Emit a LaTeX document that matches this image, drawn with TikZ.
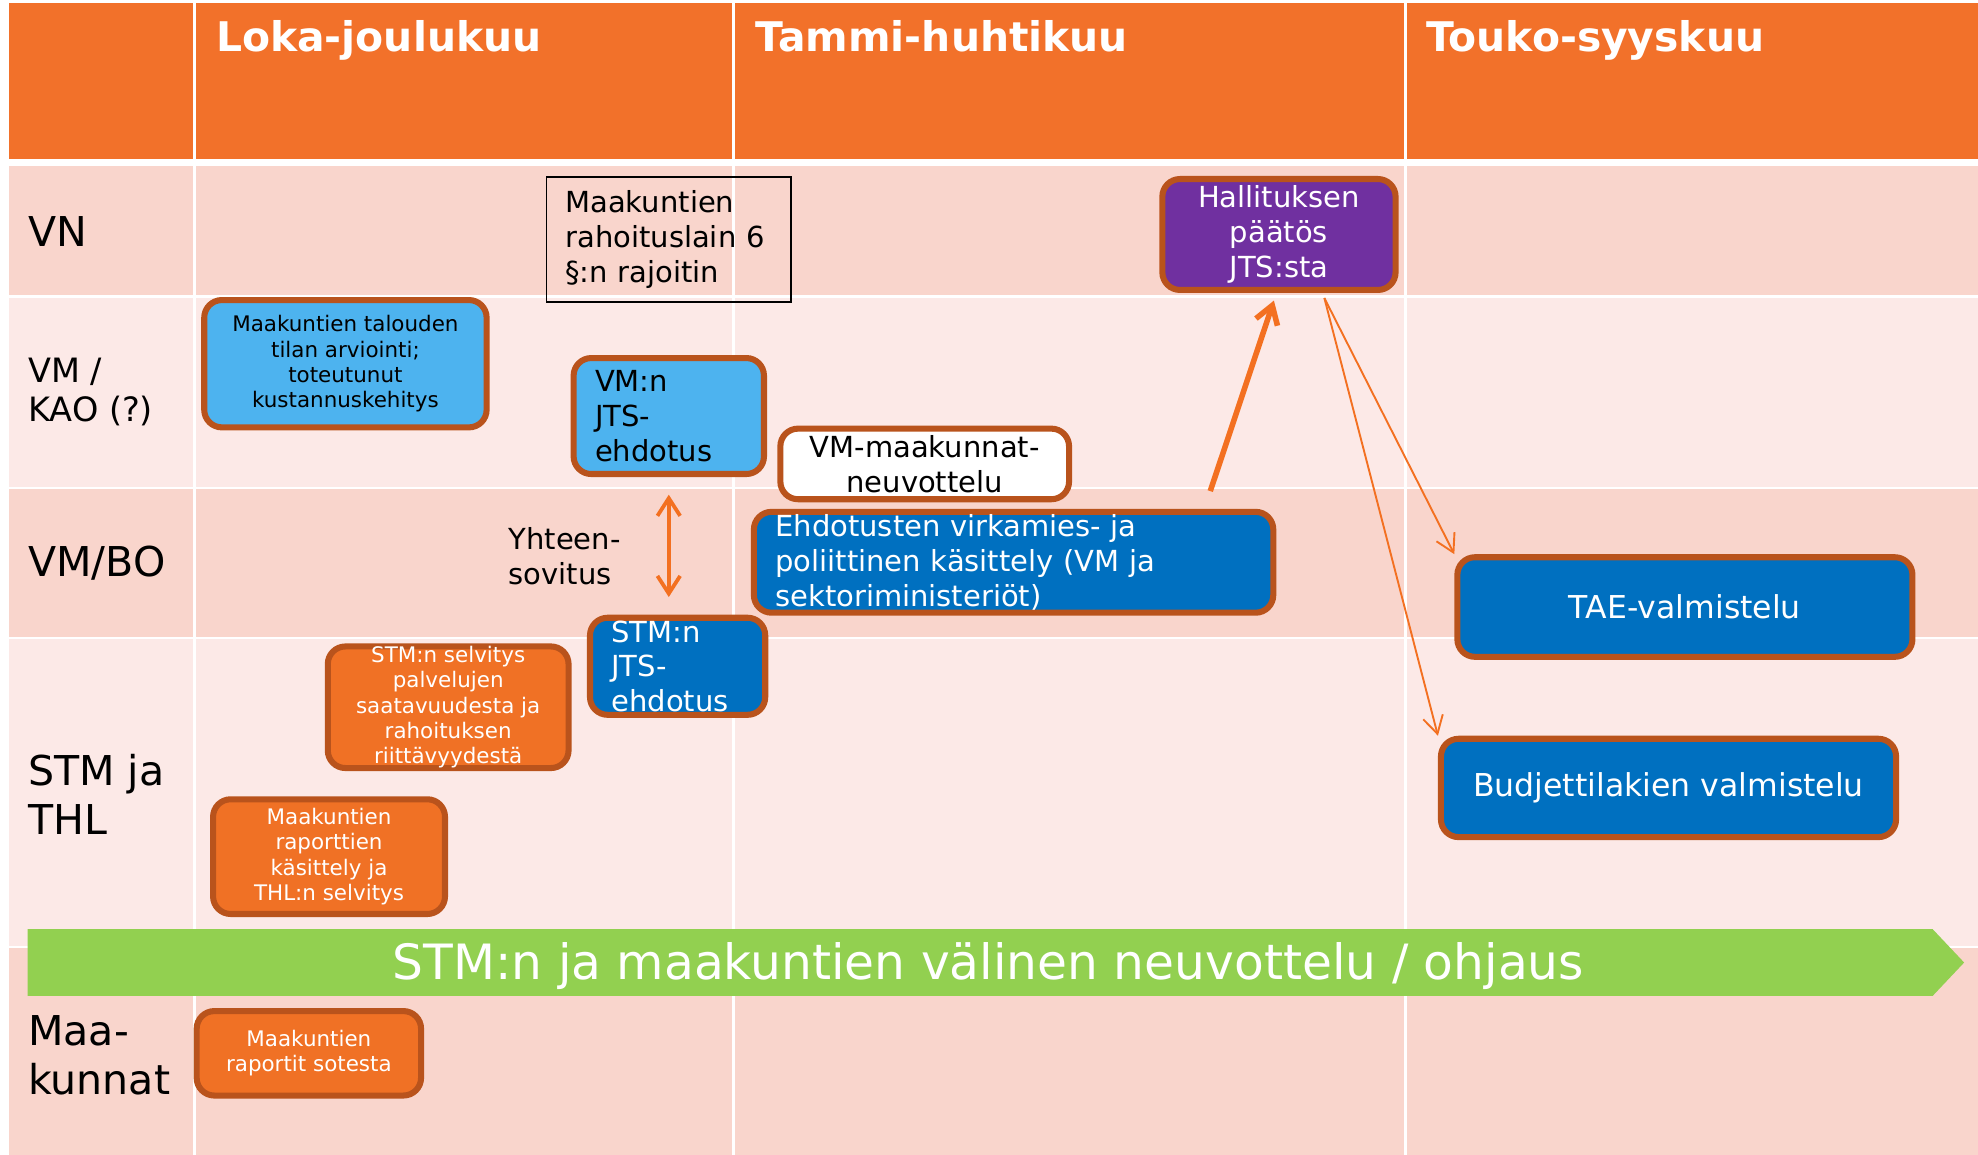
\documentclass[tikz,border=0pt]{standalone}
\usepackage{fontspec}
\setmainfont{DejaVu Sans}
\usetikzlibrary{arrows.meta}

\definecolor{headorange}{HTML}{F2712A}
\definecolor{rowdark}{HTML}{F9D5CC}
\definecolor{rowlight}{HTML}{FCE9E7}
\definecolor{edgebrown}{HTML}{B9531C}
\definecolor{lightblue}{HTML}{4DB3EF}
\definecolor{darkblue}{HTML}{0070C0}
\definecolor{govpurple}{HTML}{7030A0}
\definecolor{boxorange}{HTML}{F07125}
\definecolor{bannergreen}{HTML}{92D050}
\definecolor{arroworange}{HTML}{F37021}

\newcommand{\tinyboxfont}{\fontsize{8.5}{10}\selectfont}
\newcommand{\midboxfont}{\fontsize{11.5}{13.75}\selectfont}
\newcommand{\bigboxfont}{\fontsize{12.5}{15}\selectfont}
\newcommand{\rowfont}{\fontsize{16.3}{19.5}\selectfont}
\newcommand{\headfont}{\bfseries\fontsize{16.2}{19}\selectfont}
\newcommand{\bannerfont}{\fontsize{19.3}{23}\selectfont}

\tikzset{
	box/.style={draw=edgebrown, line width=2.4pt, rounded corners=7pt, inner sep=0pt},
	lbox/.style={box, fill=lightblue, text=black},
	dbox/.style={box, fill=darkblue, text=white},
	obox/.style={box, fill=boxorange, text=white, align=center, font=\tinyboxfont},
	leftbox/.style={align=left, inner xsep=8.5pt, font=\midboxfont},
	rowlabel/.style={anchor=west, align=left, inner sep=0pt, font=\rowfont},
	monthlabel/.style={anchor=base west, inner sep=0pt, text=white, font=\headfont},
	flow/.style={draw=arroworange, line width=0.75pt, -{Straight Barb[length=7pt,width=8pt]}}
}

\begin{document}
\begin{tikzpicture}[x=0.5pt, y=-0.5pt]
	\useasboundingbox (0,0) rectangle (1569,916);
	% header and rows
	\fill[headorange] (7,2) rectangle (1569,126);
	\fill[rowdark] (7,132) rectangle (1569,234);
	\fill[rowlight] (7,236) rectangle (1569,386);
	\fill[rowdark] (7,388) rectangle (1569,505);
	\fill[rowlight] (7,507) rectangle (1569,750);
	\fill[rowdark] (7,752) rectangle (1569,916);
	\foreach \x in {154,582,1115}
		\draw[white, line width=1.2pt] (\x,2) -- (\x,916);

	\node[monthlabel] (loka) at (171,41) {Loka-joulukuu};
	\node[monthlabel] (tammi) at (599,41) {Tammi-huhtikuu};
	\node[monthlabel] (touko) at (1131,41) {Touko-syyskuu};

	\node[rowlabel] (vn) at (22,184) {VN};
	\node[rowlabel, font=\fontsize{13.3}{15.5}\selectfont] (vmkao) at (22,311) {VM /\\KAO (?)};
	\node[rowlabel] (vmbo) at (22,447) {VM/BO};
	\node[rowlabel] (stmthl) at (22,630) {STM ja\\THL};
	\node[rowlabel] (maakunnat) at (22,837) {Maa-\\kunnat};

	% boxes
	\node[draw=black, line width=0.6pt, inner xsep=7.5pt, inner ysep=0pt, minimum height=49.5pt, text width=82pt, align=left, font=\midboxfont] (rajoitin) at (530.5,190) {Maakuntien\\rahoituslain 6\\§:n rajoitin};
	\node[box, fill=govpurple, text=white, align=center, font=\midboxfont, minimum width=92.5pt, minimum height=44pt] (hallitus) at (1014.5,186) {Hallituksen\\päätös\\JTS:sta};
	\node[lbox, align=center, font=\tinyboxfont, minimum width=112pt, minimum height=50.5pt] (talous) at (274,288.5) {Maakuntien talouden\\tilan arviointi;\\toteutunut\\kustannuskehitys};
	\node[lbox, leftbox, text width=58.5pt, minimum height=46pt] (vmjts) at (530.5,330) {VM:n\\JTS-\\ehdotus};
	\node[box, fill=white, align=center, font=\midboxfont, minimum width=114.5pt, minimum height=28pt] (vmneuv) at (733.5,368) {VM-maakunnat-\\neuvottelu};
	\node[dbox, leftbox, text width=189pt, minimum height=40pt] (kasittely) at (804,446) {Ehdotusten virkamies- ja\\poliittinen käsittely (VM ja\\sektoriministeriöt)};
	\node[anchor=west, align=left, inner sep=0pt, font=\midboxfont] (yhteen) at (403,441) {Yhteen-\\sovitus};
	\node[dbox, leftbox, text width=52.5pt, minimum height=38.5pt] (stmjts) at (537.5,528.5) {STM:n\\JTS-\\ehdotus};
	\node[obox, minimum width=95.5pt, minimum height=47pt] (selvitys) at (355.5,561) {STM:n selvitys\\palvelujen\\saatavuudesta ja\\rahoituksen\\riittävyydestä};
	\node[obox, minimum width=92pt, minimum height=45.5pt] (thl) at (261,679.5) {Maakuntien\\raporttien\\käsittely ja\\THL:n selvitys};
	\node[obox, minimum width=89pt, minimum height=33.5pt] (sotesta) at (245,835.5) {Maakuntien\\raportit sotesta};
	\node[dbox, font=\bigboxfont, minimum width=180.5pt, minimum height=39.5pt] (tae) at (1336.5,481.5) {TAE-valmistelu};
	\node[dbox, font=\bigboxfont, minimum width=180.5pt, minimum height=39pt] (budjetti) at (1323.5,625) {Budjettilakien valmistelu};

	% banner
	\fill[bannergreen] (22,737) -- (1533,737) -- (1558,763.5) -- (1533,790) -- (22,790) -- cycle;
	\node[anchor=base, text=white, font=\bannerfont, inner sep=0pt] (ohjaus) at (784,777) {STM:n ja maakuntien välinen neuvottelu / ohjaus};

	% arrows
	\draw[arroworange, line width=1.5pt, {Straight Barb[length=7pt,width=9pt]}-{Straight Barb[length=7pt,width=9pt]}, shorten <=7pt, shorten >=7pt] (vmjts.south) -- (vmjts.south |- stmjts.north);
	\draw[arroworange, line width=2.2pt, -{Straight Barb[length=7pt,width=9pt]}] ([xshift=78pt,yshift=7pt]kasittely.north) -- ([xshift=-2pt,yshift=-3pt]hallitus.south);
	\draw[flow] ([xshift=18pt,yshift=-2pt]hallitus.south) -- (tae.north west);
	\draw[flow] ([xshift=18pt,yshift=-2pt]hallitus.south) -- (budjetti.north west);
\end{tikzpicture}
\end{document}
